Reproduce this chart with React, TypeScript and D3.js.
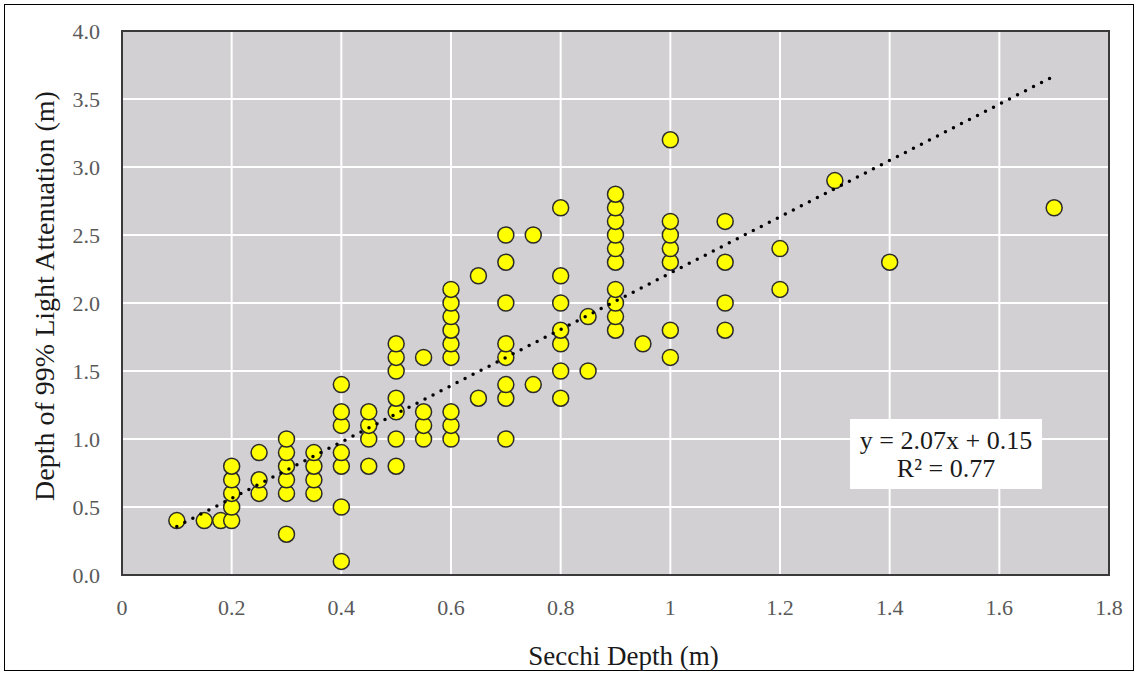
import { useEffect, useRef } from 'react';
import * as d3 from 'd3';

// Secchi depth levels (m) and the 99% light-attenuation depths observed at each
const secchiLevels = [0.1, 0.15, 0.18, 0.2, 0.25, 0.3, 0.35, 0.4, 0.45, 0.5, 0.55, 0.6, 0.65, 0.7, 0.75, 0.8, 0.85, 0.9, 0.95, 1.0, 1.1, 1.2, 1.3, 1.4, 1.7];
const attenuationByLevel = [
  [0.4],
  [0.4],
  [0.4],
  [0.4, 0.5, 0.6, 0.7, 0.8],
  [0.6, 0.7, 0.9],
  [0.3, 0.6, 0.7, 0.8, 0.9, 1.0],
  [0.6, 0.7, 0.8, 0.9],
  [0.1, 0.5, 0.8, 0.9, 1.1, 1.2, 1.4],
  [0.8, 1.0, 1.1, 1.2],
  [0.8, 1.0, 1.2, 1.3, 1.5, 1.6, 1.7],
  [1.0, 1.1, 1.2, 1.6],
  [1.0, 1.1, 1.2, 1.6, 1.7, 1.8, 1.9, 2.0, 2.1],
  [1.3, 2.2],
  [1.0, 1.3, 1.4, 1.6, 1.7, 2.0, 2.3, 2.5],
  [1.4, 2.5],
  [1.3, 1.5, 1.7, 1.8, 2.0, 2.2, 2.7],
  [1.5, 1.9],
  [1.8, 1.9, 2.0, 2.1, 2.3, 2.4, 2.5, 2.6, 2.7, 2.8],
  [1.7],
  [1.6, 1.8, 2.3, 2.4, 2.5, 2.6, 3.2],
  [1.8, 2.0, 2.3, 2.6],
  [2.1, 2.4],
  [2.9],
  [2.3],
  [2.7],
];

const xTicks = [0, 0.2, 0.4, 0.6, 0.8, 1, 1.2, 1.4, 1.6, 1.8];
const yTicks = [0, 0.5, 1, 1.5, 2, 2.5, 3, 3.5, 4];
const slope = 2.07;
const intercept = 0.15;
const fitRange = [0.1, 1.7];
const fitLabels = ['y = 2.07x + 0.15', 'R² = 0.77'];

export default function App() {
  const svgRef = useRef<SVGSVGElement>(null);

  useEffect(() => {
    const width = 1138;
    const height = 675;
    const svg = d3.select(svgRef.current);
    svg.selectAll('*').remove();
    svg.attr('width', width).attr('height', height);

    const font = '"Liberation Serif", "Times New Roman", serif';
    const plot = { left: 122, right: 1109, top: 31, bottom: 575 };

    const x = d3.scaleLinear().domain([0, 1.8]).range([plot.left, plot.right]);
    const y = d3.scaleLinear().domain([0, 4]).range([plot.bottom, plot.top]);

    const points = secchiLevels.flatMap((s, i) => attenuationByLevel[i].map((a) => ({ s, a })));

    // Outer frame
    svg
      .append('rect')
      .attr('x', 4.5)
      .attr('y', 4.5)
      .attr('width', width - 9)
      .attr('height', height - 9)
      .attr('fill', '#fff')
      .attr('stroke', '#000')
      .attr('stroke-width', 1);

    // Plot background
    svg
      .append('rect')
      .attr('x', plot.left)
      .attr('y', plot.top)
      .attr('width', plot.right - plot.left)
      .attr('height', plot.bottom - plot.top)
      .attr('fill', '#d2d0d2');

    // Grid lines
    svg
      .append('g')
      .selectAll('line')
      .data(xTicks.slice(1, -1))
      .enter()
      .append('line')
      .attr('x1', (d) => x(d))
      .attr('x2', (d) => x(d))
      .attr('y1', plot.top)
      .attr('y2', plot.bottom)
      .attr('stroke', '#fff')
      .attr('stroke-width', 2);

    svg
      .append('g')
      .selectAll('line')
      .data(yTicks.slice(1, -1))
      .enter()
      .append('line')
      .attr('x1', plot.left)
      .attr('x2', plot.right)
      .attr('y1', (d) => y(d))
      .attr('y2', (d) => y(d))
      .attr('stroke', '#fff')
      .attr('stroke-width', 2);

    // Plot border
    svg
      .append('rect')
      .attr('x', plot.left)
      .attr('y', plot.top)
      .attr('width', plot.right - plot.left)
      .attr('height', plot.bottom - plot.top)
      .attr('fill', 'none')
      .attr('stroke', '#3a3a3a')
      .attr('stroke-width', 2);

    // Tick labels
    svg
      .append('g')
      .selectAll('text')
      .data(xTicks)
      .enter()
      .append('text')
      .attr('x', (d) => x(d))
      .attr('y', 607)
      .attr('dy', '0.35em')
      .attr('text-anchor', 'middle')
      .attr('fill', '#595959')
      .style('font-family', font)
      .style('font-size', '22px')
      .text((d) => String(+d.toFixed(1)));

    svg
      .append('g')
      .selectAll('text')
      .data(yTicks)
      .enter()
      .append('text')
      .attr('x', 100)
      .attr('y', (d) => y(d))
      .attr('dy', '0.35em')
      .attr('text-anchor', 'end')
      .attr('fill', '#595959')
      .style('font-family', font)
      .style('font-size', '22px')
      .text((d) => d.toFixed(1));

    // Axis titles
    svg
      .append('text')
      .attr('x', (plot.left + plot.right) / 2 + 8)
      .attr('y', 656)
      .attr('dy', '0.35em')
      .attr('text-anchor', 'middle')
      .attr('fill', '#1a1a1a')
      .style('font-family', font)
      .style('font-size', '27px')
      .text('Secchi Depth (m)');

    svg
      .append('text')
      .attr('transform', `translate(44,${(plot.top + plot.bottom) / 2 - 7}) rotate(-90)`)
      .attr('dy', '0.35em')
      .attr('text-anchor', 'middle')
      .attr('fill', '#1a1a1a')
      .style('font-family', font)
      .style('font-size', '28px')
      .text('Depth of 99% Light Attenuation (m)');

    // Points
    svg
      .append('g')
      .selectAll('circle')
      .data(points)
      .enter()
      .append('circle')
      .attr('cx', (d) => x(d.s))
      .attr('cy', (d) => y(d.a))
      .attr('r', 8)
      .attr('fill', '#ffff00')
      .attr('stroke', '#2b2b2b')
      .attr('stroke-width', 1.5);

    // Linear trendline (dotted)
    const line = d3
      .line<number>()
      .x((d) => x(d))
      .y((d) => y(slope * d + intercept));
    svg
      .append('path')
      .attr('d', line(fitRange))
      .attr('fill', 'none')
      .attr('stroke', '#000')
      .attr('stroke-width', 3.5)
      .attr('stroke-linecap', 'round')
      .attr('stroke-dasharray', '0 9');

    // Equation box
    const box = svg.append('g');
    box
      .append('rect')
      .attr('x', 850)
      .attr('y', 419)
      .attr('width', 192)
      .attr('height', 70)
      .attr('fill', '#fff');
    box
      .selectAll('text')
      .data(fitLabels)
      .enter()
      .append('text')
      .attr('x', 946)
      .attr('y', (_, i) => 440 + i * 28)
      .attr('dy', '0.35em')
      .attr('text-anchor', 'middle')
      .attr('fill', '#1a1a1a')
      .style('font-family', font)
      .style('font-size', '26px')
      .text((d) => d);
  }, []);

  return <svg ref={svgRef} style={{ position: 'absolute', left: 0, top: 0 }}></svg>;
}
